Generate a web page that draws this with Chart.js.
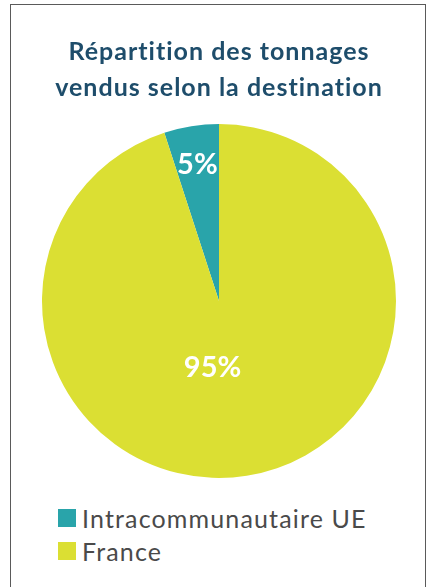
<!DOCTYPE html>
<html>
<head>
<meta charset="utf-8">
<script src="https://cdn.jsdelivr.net/npm/chart.js@4"></script>
<style>
  html, body { margin: 0; padding: 0; background: #fff; }
  #cadre { position: absolute; left: 10px; top: 4px; width: 416px; height: 600px;
           border: 1.5px solid #5a5a5a; box-sizing: border-box; }
  #zoneGraph { position: absolute; left: 0; top: 0; width: 416px; height: 490px; }
  #legende { position: absolute; left: 47px; top: 496px; font-family: Lato, sans-serif;
             font-size: 25px; color: #4a4a4a; letter-spacing: 1.15px; }
  .item { display: flex; align-items: center; height: 33px; }
  .carre { width: 18px; height: 18px; margin-right: 6px; }
</style>
</head>
<body>
<div id="cadre">
  <div id="zoneGraph"><canvas id="grafiqueDestination"></canvas></div>
  <div id="legende"></div>
</div>
<script>
// ── Données ──────────────────────────────────────────────
const destinations = ['Intracommunautaire UE', 'France'];
const parts = [5, 95];
const couleurs = ['#29a4aa', '#dbdf33'];
const titre = ['Répartition des tonnages', 'vendus selon la destination'];

// position des étiquettes (fraction du rayon, décalage horizontal)
const placeEtiquette = [{ r: 0.78, dx: 0 }, { r: 0.38, dx: -17 }];

// espacement des lettres du titre (le titre est dessiné avant les secteurs)
const pluginEspacement = {
    id: 'espacement',
    beforeDraw(chart) { chart.ctx.letterSpacing = '1px'; },
    beforeDatasetsDraw(chart) { chart.ctx.letterSpacing = '0px'; }
};

const pluginEtiquettes = {
    id: 'etiquettes',
    afterDatasetsDraw(chart) {
        const ctx = chart.ctx;
        const meta = chart.getDatasetMeta(0);
        ctx.save();
        ctx.font = 'bold 29px Lato, sans-serif';
        ctx.fillStyle = '#ffffff';
        ctx.textAlign = 'center';
        ctx.textBaseline = 'middle';
        meta.data.forEach(function (arc, i) {
            const p = arc.getProps(['x', 'y', 'startAngle', 'endAngle', 'outerRadius'], true);
            const mid = (p.startAngle + p.endAngle) / 2;
            const r = p.outerRadius * placeEtiquette[i].r;
            ctx.fillText(parts[i] + '%', p.x + Math.cos(mid) * r + placeEtiquette[i].dx, p.y + Math.sin(mid) * r);
        });
        ctx.restore();
    }
};

document.addEventListener('DOMContentLoaded', function () {
    const ctxGraph = document.getElementById('grafiqueDestination');
    new Chart(ctxGraph.getContext('2d'), {
        type: 'pie',
        data: {
            labels: destinations,
            datasets: [{ data: parts, backgroundColor: couleurs, borderWidth: 0 }]
        },
        options: {
            responsive: true, maintainAspectRatio: false, animation: false,
            rotation: -18,
            layout: { padding: { top: 0, bottom: 17, left: 0, right: 0 } },
            plugins: {
                legend: { display: false },
                tooltip: { enabled: false },
                title: {
                    display: true, text: titre, color: '#1e4d6b',
                    font: { family: 'Lato, sans-serif', size: 25, weight: 'bold', lineHeight: 36 / 25 },
                    padding: { top: 29, bottom: 18 }
                }
            }
        },
        plugins: [pluginEspacement, pluginEtiquettes]
    });

    // légende HTML (une entrée par ligne)
    const leg = document.getElementById('legende');
    destinations.forEach(function (nom, i) {
        const d = document.createElement('div');
        d.className = 'item';
        d.innerHTML = '<span class="carre" style="background:' + couleurs[i] + '"></span>';
        d.appendChild(document.createTextNode(nom));
        leg.appendChild(d);
    });
});
</script>
</body>
</html>
